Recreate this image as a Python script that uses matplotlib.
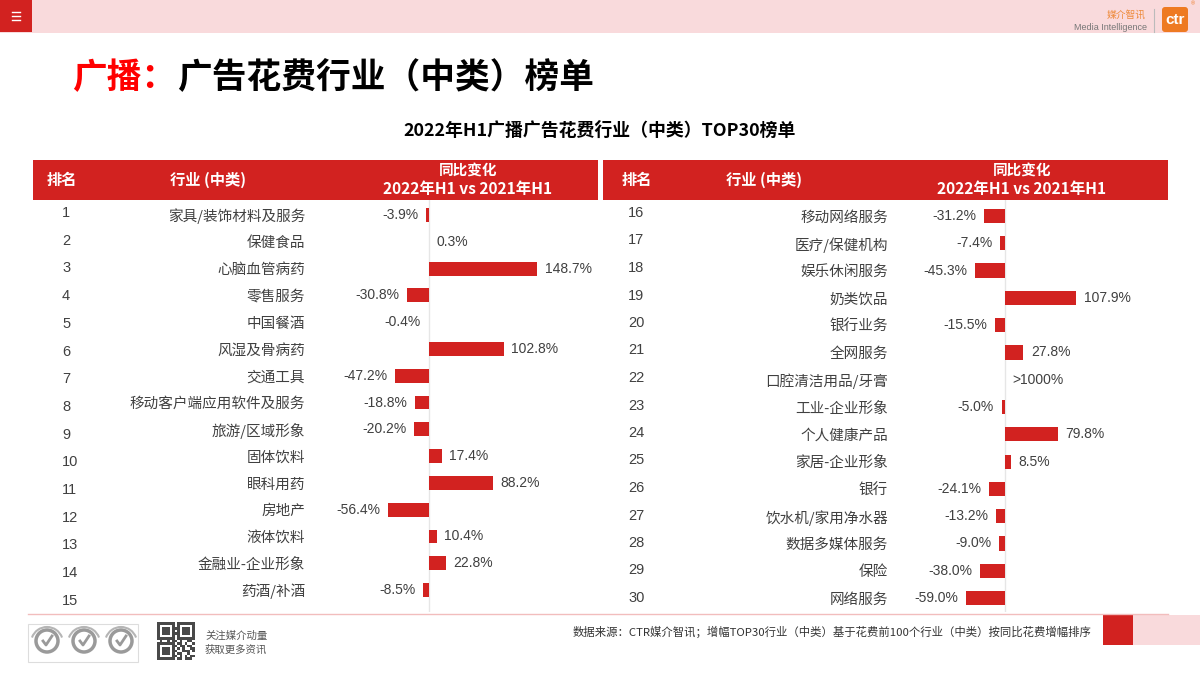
import matplotlib
matplotlib.use('Agg')
import matplotlib.pyplot as plt
import matplotlib.patches as patches
import numpy as np

plt.rcParams['font.family'] = ['Noto Sans CJK SC', 'DejaVu Sans']

RED = '#D22220'
PINK = '#F9DADC'
TXT = '#404040'
NUM_FONT = ['Liberation Sans', 'Noto Sans CJK SC']

# ranks 1-15
left_names = ['家具/装饰材料及服务', '保健食品', '心脑血管病药', '零售服务', '中国餐酒',
              '风湿及骨病药', '交通工具', '移动客户端应用软件及服务', '旅游/区域形象', '固体饮料',
              '眼科用药', '房地产', '液体饮料', '金融业-企业形象', '药酒/补酒']
left_values = [-3.9, 0.3, 148.7, -30.8, -0.4, 102.8, -47.2, -18.8, -20.2, 17.4,
               88.2, -56.4, 10.4, 22.8, -8.5]

# ranks 16-30 (22 is >1000%, no bar)
right_names = ['移动网络服务', '医疗/保健机构', '娱乐休闲服务', '奶类饮品', '银行业务',
               '全网服务', '口腔清洁用品/牙膏', '工业-企业形象', '个人健康产品', '家居-企业形象',
               '银行', '饮水机/家用净水器', '数据多媒体服务', '保险', '网络服务']
right_values = [-31.2, -7.4, -45.3, 107.9, -15.5, 27.8, None, -5.0, 79.8, 8.5,
                -24.1, -13.2, -9.0, -38.0, -59.0]
right_note = '>1000%'

W, H = 1200, 675


def px_axes(x0, y0, x1, y1):
    return [x0 / W, 1 - y1 / H, (x1 - x0) / W, (y1 - y0) / H]


fig = plt.figure(figsize=(12, 6.75), dpi=100)
bg = fig.add_axes([0, 0, 1, 1])
bg.axis('off')

# top band + menu + logo
bg.add_patch(patches.Rectangle((0, 0), W, 33, color=PINK, lw=0))
bg.add_patch(patches.Rectangle((0, 0), 32, 32, color=RED, lw=0))
for yy in (12, 16, 20):
    bg.plot([12, 20], [yy, yy], color='white', lw=1)
bg.text(1146, 15, '媒介智讯', fontsize=7, color='#EE8A3A', ha='right', va='center')
bg.text(1147, 27, 'Media Intelligence', fontsize=6.5, color='#777777', ha='right', va='center',
        family=NUM_FONT)
bg.plot([1154, 1154], [9, 32], color='#bbbbbb', lw=0.8)
bg.add_patch(patches.FancyBboxPatch((1162, 7), 26, 25, boxstyle='round,pad=0,rounding_size=3',
                                    color='#EE7A22', lw=0))
bg.text(1175, 20, 'ctr', fontsize=11, color='white', weight='bold', ha='center', va='center',
        family=NUM_FONT)
bg.text(1193, 4, '®', fontsize=4, color='#EE7A22', ha='center', va='center', family=NUM_FONT)

# title
bg.text(72, 78, '广播：', fontsize=25, weight='bold', color='#FF0000', va='center')
bg.text(177, 78, '广告花费行业（中类）榜单', fontsize=25, weight='bold', color='black', va='center')
bg.text(600, 131, '2022年H1广播广告花费行业（中类）TOP30榜单', fontsize=12.9, weight='bold',
        color='black', ha='center', va='center')

# table headers
for x0, x1, xr, xn, xc in [(33, 598, 62, 208, 468), (603, 1168, 637, 764, 1022)]:
    bg.add_patch(patches.Rectangle((x0, 160), x1 - x0, 40, color=RED, lw=0))
    bg.text(xr, 180, '排名', fontsize=11, weight='bold', color='white', ha='center', va='center')
    bg.text(xn, 180, '行业 (中类)', fontsize=11, weight='bold', color='white', ha='center', va='center')
    bg.text(xc, 170, '同比变化', fontsize=10.5, weight='bold', color='white', ha='center', va='center')
    bg.text(xc, 189, '2022年H1 vs 2021年H1', fontsize=11.2, weight='bold', color='white',
            ha='center', va='center')

# rank numbers
for i in range(15):
    bg.text(62, 213 + i * 27.7, str(i + 1), fontsize=10.5, color=TXT, va='center', family=NUM_FONT)
    bg.text(628, 213 + i * 27.5, str(i + 16), fontsize=10.5, color=TXT, va='center', family=NUM_FONT)

# footer
bg.plot([28, 1168], [614, 614], color='#F2BDBD', lw=1)
bg.add_patch(patches.Rectangle((1103, 615), 30, 30, color=RED, lw=0))
bg.add_patch(patches.Rectangle((1133, 615), 67, 30, color=PINK, lw=0))
bg.text(573, 632, '数据来源：CTR媒介智讯；增幅TOP30行业（中类）基于花费前100个行业（中类）按同比花费增幅排序',
        fontsize=8.2, color='#333333', va='center')
bg.text(205, 636, '关注媒介动量', fontsize=7.5, color='#555555', va='center')
bg.text(205, 650, '获取更多资讯', fontsize=7.5, color='#555555', va='center')

# badges
bg.add_patch(patches.Rectangle((28, 624), 110, 38, fill=False, ec='#dddddd', lw=0.8))
for cx in (47, 84, 121):
    bg.add_patch(patches.Circle((cx, 641), 11, fill=False, ec='#9a9a9a', lw=2.5))
    bg.add_patch(patches.Arc((cx, 643), 32, 32, theta1=200, theta2=340, ec='#b5b5b5', lw=1.5))
    bg.plot([cx - 4, cx - 1, cx + 5], [641, 645, 636], color='#9a9a9a', lw=2)

# qr code
qr = ['111111101111111', '100000101000001', '101110111011101', '101110101011101',
      '101110111011101', '100000101000001', '111111101111111', '010010110100110',
      '111111101101001', '100000110110110', '101110101010011', '101110110011101',
      '101110101100100', '100000110101011', '111111101101110']
qr_img = np.array([[int(c) for c in row] for row in qr])
bg.imshow(qr_img, cmap='gray_r', interpolation='nearest', extent=(157, 195, 660, 622),
          aspect='auto', vmin=0, vmax=1.4)

bg.set_xlim(0, W)
bg.set_ylim(H, 0)


def panel(rect, names, values, zero_px, scale, y0_px, step, pad_px, note=None):
    ax = fig.add_axes(px_axes(*rect))
    x0, y0, x1, y1 = rect
    n = len(names)
    pos = np.arange(n)
    vals = [0 if v is None else v for v in values]
    ax.barh(pos, vals, height=0.52, color=RED, lw=0)
    ax.axvline(0, color='#e6e6e6', lw=1, zorder=0)
    for i, v in enumerate(values):
        if v is None:
            ax.annotate(note, (0, i), xytext=(5.5, 0), textcoords='offset points', ha='left',
                        va='center', fontsize=10, color=TXT, family=NUM_FONT)
        elif v >= 0:
            ax.annotate(f'{v:.1f}%', (v, i), xytext=(5.5, 0), textcoords='offset points',
                        ha='left', va='center', fontsize=10, color=TXT, family=NUM_FONT)
        else:
            ax.annotate(f'{v:.1f}%', (v, i), xytext=(-5.5, 0), textcoords='offset points',
                        ha='right', va='center', fontsize=10, color=TXT, family=NUM_FONT)
    ax.set_xlim((x0 - zero_px) / scale, (x1 - zero_px) / scale)
    ax.set_ylim((y1 - y0_px) / step, (y0 - y0_px) / step)
    ax.set_yticks(pos)
    ax.set_yticklabels(names, fontsize=10.5, color=TXT)
    ax.tick_params(axis='y', length=0, pad=pad_px * 0.72)
    ax.set_xticks([])
    for s in ax.spines.values():
        s.set_visible(False)
    ax.set_facecolor('none')
    return ax


panel((340, 200, 600, 612), left_names, left_values, 429, 0.726, 215, 26.79, 35)
panel((920, 200, 1180, 612), right_names, right_values, 1005, 0.66, 216, 27.29, 32, right_note)

fig.savefig('out.png', dpi=100)
